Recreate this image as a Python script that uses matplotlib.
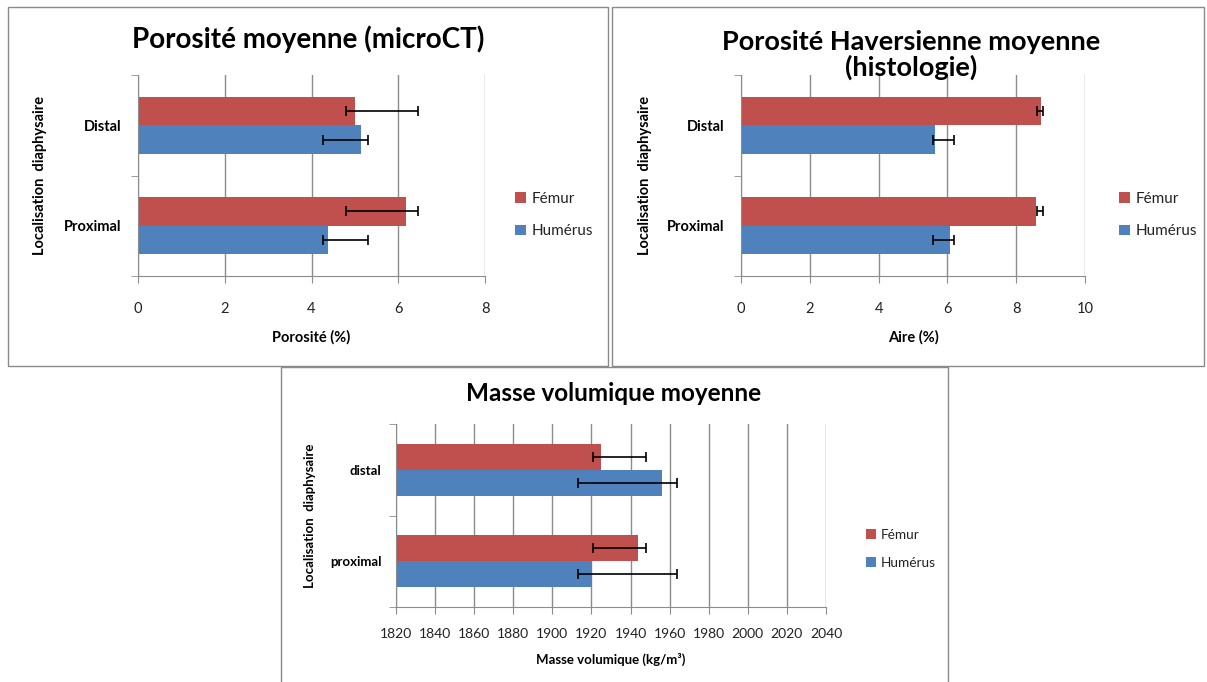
import matplotlib.pyplot as plt
from matplotlib.patches import Rectangle

plt.rcParams['font.family'] = ['Lato', 'DejaVu Sans']

W, H = 1207, 682
RED = '#C0504D'
BLUE = '#4F81BD'
GRID = '#8C8C8C'

series = ["Fémur", "Humérus"]

# panel 1 : porosité microCT
cats1 = ["Proximal", "Distal"]
femur1 = [6.18, 5.0]
humerus1 = [4.39, 5.14]
femur1_lo = [4.79, 4.79]
femur1_hi = [6.45, 6.45]
humerus1_lo = [4.26, 4.26]
humerus1_hi = [5.30, 5.30]

# panel 2 : porosité haversienne
cats2 = ["Proximal", "Distal"]
femur2 = [8.58, 8.72]
humerus2 = [6.07, 5.63]
femur2_lo = [8.60, 8.60]
femur2_hi = [8.79, 8.79]
humerus2_lo = [5.58, 5.58]
humerus2_hi = [6.20, 6.20]

# panel 3 : masse volumique
cats3 = ["proximal", "distal"]
femur3 = [1943.8, 1924.9]
humerus3 = [1920.1, 1956.1]
femur3_lo = [1921.0, 1921.0]
femur3_hi = [1947.9, 1947.9]
humerus3_lo = [1913.3, 1913.3]
humerus3_hi = [1963.9, 1963.9]


def fx(px):
    return px / W


def fy(py):
    return 1 - py / H


def axes_px(fig, x0, y0, x1, y1):
    return fig.add_axes([fx(x0), fy(y1), fx(x1) - fx(x0), fy(y0) - fy(y1)])


def border(fig, x0, y0, x1, y1):
    fig.add_artist(Rectangle((fx(x0), fy(y1)), fx(x1) - fx(x0), fy(y0) - fy(y1),
                             transform=fig.transFigure, fill=False,
                             edgecolor='#8A8A8A', linewidth=1.0))


def draw_panel(ax, cats, fem, hum, flo, fhi, hlo, hhi, xlim, xticks, xlabel,
               lab_size=10.5, tick_size=10.5, ypad=12, xpad=14):
    h = 0.285
    pos = list(range(len(cats)))
    yf = [p + h / 2 for p in pos]
    yh = [p - h / 2 for p in pos]
    ax.barh(yf, fem, height=h, color=RED, label=series[0], zorder=2)
    ax.barh(yh, hum, height=h, color=BLUE, label=series[1], zorder=2)
    for ys, lo, hi in [(yf, flo, fhi), (yh, hlo, hhi)]:
        mid = [(a + b) / 2 for a, b in zip(lo, hi)]
        half = [(b - a) / 2 for a, b in zip(lo, hi)]
        ax.errorbar(mid, ys, xerr=half, fmt='none', ecolor='black',
                    elinewidth=1.2, capsize=3.5, capthick=1.2, zorder=3)
    ax.set_xlim(*xlim)
    ax.set_ylim(-0.5, len(cats) - 0.5)
    ax.set_xticks(xticks)
    ax.set_xticklabels([str(t) for t in xticks], fontsize=tick_size, color='#222222')
    ax.set_yticks(pos)
    ax.set_yticklabels(cats, fontsize=lab_size, fontweight='bold')
    ax.set_yticks([p - 0.5 for p in range(len(cats) + 1)], minor=True)
    ax.tick_params(axis='y', which='major', length=0, pad=ypad)
    ax.tick_params(axis='y', which='minor', length=5, color=GRID)
    ax.tick_params(axis='x', length=5, color=GRID, pad=xpad)
    ax.grid(axis='x', color=GRID, linewidth=1.0, zorder=0)
    ax.set_axisbelow(True)
    for s in ['top', 'right']:
        ax.spines[s].set_visible(False)
    for s in ['left', 'bottom']:
        ax.spines[s].set_color(GRID)
    ax.set_xlabel(xlabel, fontsize=lab_size, fontweight='bold')
    ax.set_ylabel("Localisation  diaphysaire", fontsize=lab_size, fontweight='bold')


fig = plt.figure(figsize=(W / 100, H / 100), dpi=100)

border(fig, 8, 7, 608, 366)
border(fig, 612, 7, 1204, 366)
border(fig, 281, 367, 948, 690)

ax1 = axes_px(fig, 138, 75, 485, 276)
draw_panel(ax1, cats1, femur1, humerus1, femur1_lo, femur1_hi, humerus1_lo,
           humerus1_hi, (0, 8), [0, 2, 4, 6, 8], "Porosité (%)")
ax1.yaxis.set_label_coords((47 - 138) / (485 - 138), 0.5)
ax1.xaxis.set_label_coords(0.5, -(330 - 276) / (276 - 75))

ax2 = axes_px(fig, 741, 75, 1085, 276)
draw_panel(ax2, cats2, femur2, humerus2, femur2_lo, femur2_hi, humerus2_lo,
           humerus2_hi, (0, 10), [0, 2, 4, 6, 8, 10], "Aire (%)")
ax2.yaxis.set_label_coords((652 - 741) / (1085 - 741), 0.5)
ax2.xaxis.set_label_coords(0.5, -(330 - 276) / (276 - 75))

ax3 = axes_px(fig, 396, 424, 826, 607)
draw_panel(ax3, cats3, femur3, humerus3, femur3_lo, femur3_hi, humerus3_lo,
           humerus3_hi, (1820, 2040), list(range(1820, 2041, 20)),
           "Masse volumique (kg/m³)", lab_size=9.5, tick_size=10, ypad=10.5, xpad=10)
ax3.yaxis.set_label_coords((316 - 396) / (826 - 396), 0.5)
ax3.xaxis.set_label_coords(0.5, -(653 - 607) / (607 - 424))

for ax, x, y, fs, sp in [(ax1, 515, 197, 11, 1.2), (ax2, 1119, 197, 11, 1.2),
                         (ax3, 866, 534, 9.8, 1.15)]:
    hnd, lbl = ax.get_legend_handles_labels()
    ax.legend(hnd, lbl, loc='upper left',
              bbox_to_anchor=(fx(x), fy(y - 5)), bbox_transform=fig.transFigure,
              frameon=False, fontsize=fs, handlelength=0.7, handleheight=0.7,
              handletextpad=0.4, labelspacing=sp, borderpad=0, borderaxespad=0,
              labelcolor='#222222')

fig.text(fx(308), fy(39), "Porosité moyenne (microCT)", ha='center', va='center',
         fontsize=20, fontweight='bold')
fig.text(fx(911), fy(55), "Porosité Haversienne moyenne\n(histologie)", ha='center',
         va='center', fontsize=19.5, fontweight='bold', linespacing=1.0)
fig.text(fx(614), fy(393), "Masse volumique moyenne", ha='center', va='center',
         fontsize=17.5, fontweight='bold')

fig.savefig("out.png", dpi=100)
